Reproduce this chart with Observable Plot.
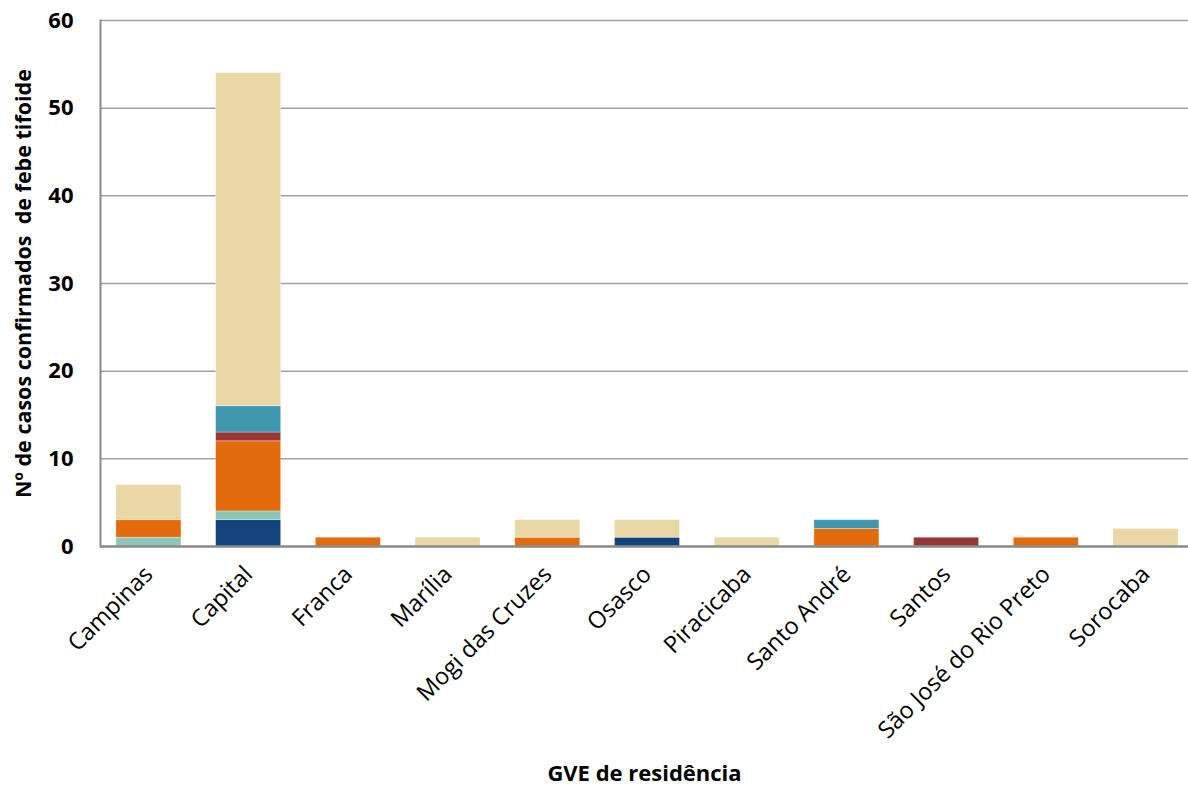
<!DOCTYPE html>
<html>
<head>
<meta charset="utf-8">
<script src="https://cdn.jsdelivr.net/npm/d3@7"></script>
<script src="https://cdn.jsdelivr.net/npm/@observablehq/plot@0.6"></script>
<style>
  html, body { margin: 0; padding: 0; background: #fff; }
  #chart svg { font-family: "Open Sans", sans-serif; }
</style>
</head>
<body>
<div id="chart"></div>
<script>
const categories = ["Campinas", "Capital", "Franca", "Marília", "Mogi das Cruzes", "Osasco", "Piracicaba", "Santo André", "Santos", "São José do Rio Preto", "Sorocaba"];
const seriesNames = ["Série 1", "Série 2", "Série 3", "Série 4", "Série 5", "Série 6"];
const seriesColors = ["#14437b", "#8bc6b6", "#e46b0c", "#953735", "#4097b0", "#e9d7a5"];
const serie1 = [0, 3, 0, 0, 0, 1, 0, 0, 0, 0, 0];
const serie2 = [1, 1, 0, 0, 0, 0, 0, 0, 0, 0, 0];
const serie3 = [2, 8, 1, 0, 1, 0, 0, 2, 0, 1, 0];
const serie4 = [0, 1, 0, 0, 0, 0, 0, 0, 1, 0, 0];
const serie5 = [0, 3, 0, 0, 0, 0, 0, 1, 0, 0, 0];
const serie6 = [4, 38, 0, 1, 2, 2, 1, 0, 0, 0, 2];
const yTicks = [0, 10, 20, 30, 40, 50, 60];
const yTitle = "Nº de casos confirmados  de febe tifoide";
const xTitle = "GVE de residência";

const allSeries = [serie1, serie2, serie3, serie4, serie5, serie6];
const data = [];
allSeries.forEach((vals, si) => {
  vals.forEach((v, ci) => data.push({gve: categories[ci], serie: seriesNames[si], value: v}));
});

const chart = Plot.plot({
  width: 1188,
  height: 790,
  marginLeft: 100,
  marginRight: 0,
  marginTop: 20,
  marginBottom: 244,
  style: {fontFamily: "Open Sans, sans-serif", background: "#fff"},
  x: {domain: categories, paddingInner: 0.348, paddingOuter: 0.13, align: 0.615, round: false, label: null},
  y: {domain: [0, 60], ticks: yTicks, label: null},
  color: {domain: seriesNames, range: seriesColors},
  marks: [
    Plot.ruleY(yTicks.filter(d => d > 0), {stroke: "#a0a0a0", strokeWidth: 1.5}),
    Plot.barY(data, {x: "gve", y: "value", fill: "serie", stroke: "#fff", strokeOpacity: 0.4, strokeWidth: 0.75}),
    Plot.ruleY([0], {stroke: "#898989", strokeWidth: 2.5}),
    Plot.frame({anchor: "left", stroke: "#898989", strokeWidth: 2}),
    Plot.axisY({ticks: yTicks, tickSize: 0, tickPadding: 27, fontSize: 22, fontWeight: "bold", fill: "#000", label: null}),
    Plot.axisX({tickSize: 0, tickRotate: -45, tickPadding: 24, fontSize: 23.5, fill: "#000", label: null}),
    Plot.text([yTitle], {frameAnchor: "left", textAnchor: "middle", rotate: -90, dx: -76, fontSize: 21.5, fontWeight: "bold", fill: "#000"}),
    Plot.text([xTitle], {frameAnchor: "bottom", textAnchor: "middle", dy: 234, fontSize: 22, fontWeight: "bold", fill: "#000"})
  ]
});
document.getElementById("chart").appendChild(chart);
</script>
</body>
</html>
